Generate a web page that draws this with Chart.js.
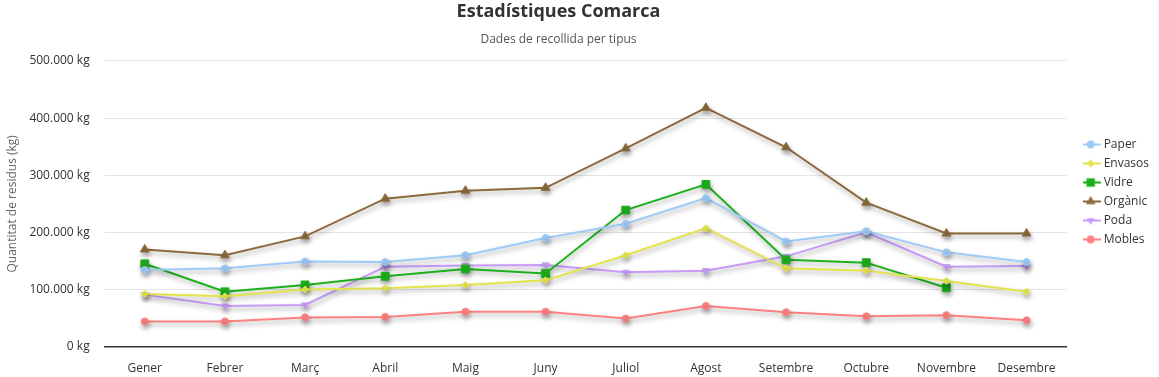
<!DOCTYPE html>
<html>
<head>
<meta charset="utf-8">
<script src="https://cdn.jsdelivr.net/npm/chart.js@4"></script>
<style>
  html, body { margin: 0; padding: 0; background: #fff; }
  #wrap { width: 1159px; height: 377px; }
</style>
</head>
<body>
<div id="wrap"><canvas id="wasteChart"></canvas></div>
<script>
// dades de recollida per mes (kg)
const months = ['Gener', 'Febrer', 'Març', 'Abril', 'Maig', 'Juny', 'Juliol', 'Agost', 'Setembre', 'Octubre', 'Novembre', 'Desembre'];
const paper   = [134000, 137000, 149000, 148000, 160000, 190000, 215000, 260000, 184000, 202000, 165000, 148000];
const envasos = [92000, 88000, 100000, 102000, 108000, 116000, 160000, 207000, 137000, 133000, 115000, 96000];
const vidre   = [145000, 96000, 108000, 123000, 136000, 128000, 239000, 284000, 152000, 147000, 103000, null];
const organic = [170000, 160000, 193000, 259000, 273000, 278000, 347000, 418000, 349000, 252000, 198000, 198000];
const poda    = [91000, 71000, 73000, 140000, 142000, 143000, 130000, 133000, 158000, 200000, 140000, 141000];
const mobles  = [44000, 44000, 51000, 52000, 61000, 61000, 49000, 71000, 60000, 53000, 55000, 46000];
const yTicks  = [0, 100000, 200000, 300000, 400000, 500000];

const FONT = "'Open Sans', 'Noto Sans', sans-serif";

function fmtKg(v) {
    return String(v).replace(/\B(?=(\d{3})+(?!\d))/g, '.') + ' kg';
}

function makeSeries(label, data, color, style, radius, rotation) {
    return {
        label: label,
        data: data,
        borderColor: color,
        backgroundColor: color,
        pointBackgroundColor: color,
        pointBorderColor: color,
        pointStyle: style,
        rotation: rotation || 0,
        pointRadius: radius,
        pointBorderWidth: 1,
        pointHoverRadius: radius + 2,
        borderWidth: 2,
        tension: 0,
        spanGaps: false
    };
}

// legend icon: short line with the marker on top
function legendIcon(ds) {
    const c = document.createElement('canvas');
    c.width = 18; c.height = 12;
    const g = c.getContext('2d');
    g.strokeStyle = ds.borderColor;
    g.fillStyle = ds.borderColor;
    g.lineWidth = 2;
    g.beginPath(); g.moveTo(0, 6); g.lineTo(18, 6); g.stroke();
    Chart.helpers.drawPoint(g, { pointStyle: ds.pointStyle, rotation: ds.rotation, radius: ds.pointRadius + 0.5, borderWidth: 0 }, 8, 6);
    return c;
}

const shadowPlugin = {
    id: 'lineShadow',
    beforeDatasetsDraw(chart) {
        const ctx = chart.ctx;
        ctx.save();
        ctx.shadowColor = 'rgba(0,0,0,0.35)';
        ctx.shadowBlur = 5;
        ctx.shadowOffsetX = 1;
        ctx.shadowOffsetY = 3;
    },
    afterDatasetsDraw(chart) {
        chart.ctx.restore();
    }
};

// nudge title block and legend to where the original has them
const layoutNudge = {
    id: 'layoutNudge',
    afterLayout(chart) {
        chart.boxes.forEach(b => {
            if (b.options && typeof b.options.text === 'string') {
                b.left = 0;
                b.right = chart.width - 42;
            }
        });
        const lg = chart.legend;
        if (lg) {
            lg.left += 12; lg.right += 12;
            lg.top += 3; lg.bottom += 3;
        }
    }
};

const ctx = document.getElementById('wasteChart').getContext('2d');
const chart = new Chart(ctx, {
    type: 'line',
    data: {
        labels: months,
        datasets: [
            makeSeries('Paper', paper, '#9ecbf7', 'circle', 3.5),
            makeSeries('Envasos', envasos, '#e3e34a', 'rectRot', 3.5),
            makeSeries('Vidre', vidre, '#1db01d', 'rect', 5.5),
            makeSeries('Orgànic', organic, '#8b6a3b', 'triangle', 5),
            makeSeries('Poda', poda, '#c79bf8', 'triangle', 4, 180),
            makeSeries('Mobles', mobles, '#ff8080', 'circle', 3.5)
        ]
    },
    plugins: [shadowPlugin, layoutNudge],
    options: {
        responsive: true,
        maintainAspectRatio: false,
        animation: false,
        layout: { padding: { left: 5, right: 12, top: 1, bottom: 0 } },
        plugins: {
            title: {
                display: true,
                text: 'Estadístiques Comarca',
                color: '#333',
                font: { family: FONT, size: 18, weight: 'bold' },
                padding: { top: 0, bottom: 10 }
            },
            subtitle: {
                display: true,
                text: 'Dades de recollida per tipus',
                color: '#555',
                font: { family: FONT, size: 12 },
                padding: { bottom: 14 }
            },
            legend: {
                position: 'right',
                labels: {
                    color: '#333',
                    font: { family: FONT, size: 12 },
                    usePointStyle: true,
                    pointStyleWidth: 12,
                    boxWidth: 12,
                    padding: 7,
                    generateLabels(ch) {
                        return ch.data.datasets.map((ds, i) => ({
                            text: ds.label,
                            fillStyle: ds.borderColor,
                            strokeStyle: ds.borderColor,
                            fontColor: '#333',
                            pointStyle: legendIcon(ds),
                            hidden: !ch.isDatasetVisible(i),
                            datasetIndex: i,
                            lineWidth: 0
                        }));
                    }
                }
            },
            tooltip: { enabled: true }
        },
        scales: {
            x: {
                offset: true,
                grid: { display: false, drawTicks: false },
                border: { display: true, color: '#333', width: 1.5 },
                ticks: { color: '#333', font: { family: FONT, size: 12 }, padding: 15 },
                afterFit(scale) { scale.height -= 14; }
            },
            y: {
                min: yTicks[0],
                max: yTicks[yTicks.length - 1],
                afterBuildTicks(axis) {
                    axis.ticks = yTicks.map(v => ({ value: v }));
                },
                afterFit(scale) { scale.width -= 5; },
                grid: { color: '#e4e4e4', drawTicks: false },
                border: { display: false },
                ticks: {
                    color: '#333',
                    font: { family: FONT, size: 12 },
                    padding: 15,
                    callback: v => fmtKg(v)
                },
                title: {
                    display: true,
                    text: 'Quantitat de residus (kg)',
                    color: '#666',
                    font: { family: FONT, size: 12 },
                    padding: { top: 0, bottom: 0 }
                }
            }
        }
    }
});
</script>
</body>
</html>
